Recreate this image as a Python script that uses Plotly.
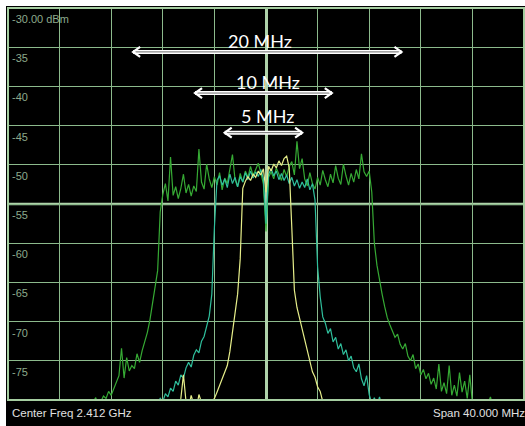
import plotly.graph_objects as go

# ---------------- data ----------------
center_label = "Center Freq 2.412 GHz"
span_label = "Span 40.000 MHz"
ref_label = "-30.00 dBm"
y_tick_values = [-35, -40, -45, -50, -55, -60, -65, -70, -75]

# sweep: frequency offset from centre (MHz), 0.2 MHz per point
sweep_step = 0.2

# 20 MHz channel trace, starts at -14.0 MHz
green_start = -14.0
green_dbm = [
    -81.5, -81.0, -81.2, -80.3, -79.7, -80.8, -80.2, -79.5, -79.8, -78.9,
    -79.4, -78.6, -77.8, -76.9, -73.4, -77.2, -74.6, -76.3, -75.6, -76.0,
    -74.1, -75.2, -73.7, -72.6, -71.4, -69.8, -67.6, -65.4, -63.5, -56.0,
    -53.8, -52.4, -54.6, -49.0, -53.9, -52.8, -54.3, -53.0, -51.2, -53.6,
    -52.5, -54.0, -52.7, -53.4, -48.0, -52.2, -53.1, -49.9, -51.8, -52.9,
    -51.5, -52.6, -51.0, -53.2, -51.7, -52.4, -50.3, -48.7, -51.9, -52.8,
    -51.1, -52.2, -50.8, -51.6, -50.2, -51.4, -50.6, -49.8, -51.0, -52.5,
    -58.5, -51.6, -50.9, -51.8, -50.4, -51.2, -52.0, -50.6, -51.5, -50.2,
    -49.6, -51.3, -47.0, -50.5, -49.2, -51.8, -52.7, -51.0, -52.4, -53.1,
    -51.6, -52.6, -50.7, -51.9, -52.8, -51.2, -52.3, -50.1, -51.7, -52.5,
    -49.9, -51.4, -52.6, -51.1, -52.2, -50.6, -51.8, -48.6, -50.9, -51.5,
    -50.8, -53.5, -60.0, -62.8, -64.8, -66.5, -68.1, -69.5, -70.4, -71.2,
    -72.0, -71.6, -72.9, -73.5, -72.8, -74.4, -75.0, -74.2, -76.0, -75.4,
    -76.8, -76.1, -77.3, -76.6, -78.0, -77.2, -78.6, -75.4, -78.9, -77.8,
    -79.2, -75.6, -79.4, -78.1, -79.5, -76.5, -79.0, -77.6, -79.8, -76.8,
    -80.4, -81.0, -80.6, -81.2, -80.8, -81.3, -80.4, -79.6, -81.0, -81.5,
    -81.2,
]

# 10 MHz channel trace, starts at -9.0 MHz
teal_start = -9.0
teal_dbm = [
    -81.2, -80.6, -81.0, -80.4, -79.8, -80.2, -79.2, -79.6, -78.5, -78.9,
    -77.6, -78.1, -76.8, -77.2, -75.9, -75.2, -75.8, -74.3, -73.6, -74.0,
    -72.5, -71.9, -70.6, -69.3, -66.5, -58.0, -52.0, -51.4, -52.6, -51.8,
    -52.9, -51.2, -52.4, -51.6, -52.8, -51.5, -52.2, -51.0, -51.9, -50.8,
    -51.7, -50.9, -51.5, -50.6, -51.8, -57.5, -51.2, -50.5, -51.4, -50.8,
    -51.9, -51.1, -52.0, -51.3, -52.4, -51.6, -52.7, -51.9, -53.0, -52.2,
    -52.9, -51.8, -53.2, -52.4, -54.5, -63.0, -66.8, -69.4, -70.2, -71.5,
    -70.9, -72.6, -72.0, -73.5, -72.8, -74.2, -73.6, -75.0, -74.4, -75.9,
    -76.4, -75.4, -77.3, -78.2, -76.9, -79.3, -80.5, -79.7, -80.8, -79.6,
    -80.9, -81.2, -80.6, -81.3, -81.0, -81.4,
]

# 5 MHz channel trace, starts at -8.0 MHz
yellow_start = -8.0
yellow_dbm = [
    -81.5, -81.0, -81.3, -80.7, -81.1, -80.4, -80.9, -79.8, -76.8, -80.2,
    -81.0, -79.4, -80.6, -81.2, -79.3, -80.5, -81.3, -80.8, -81.1, -80.3,
    -79.8, -79.0, -78.2, -77.4, -76.5, -75.6, -73.8, -71.5, -69.0, -66.5,
    -62.0, -53.0, -52.1, -51.5, -52.0, -51.2, -51.6, -50.8, -51.3, -50.5,
    -53.5, -50.2, -50.8, -49.9, -50.4, -49.5, -50.1, -49.2, -48.9, -50.4,
    -58.0, -66.0, -68.2, -69.6, -70.8, -72.2, -73.5, -75.0, -76.4, -77.1,
    -78.3, -78.9, -80.2, -81.0, -80.6, -81.3, -81.0, -81.4, -81.1, -81.5,
    -81.2,
]

# bandwidth markers: label, left end (MHz), right end (MHz), level (dBm), label pos
bw_labels = ["20 MHz", "10 MHz", "5 MHz"]
bw_left = [-10.3, -5.5, -3.2]
bw_right = [10.5, 5.1, 2.8]
bw_level = [-35.6, -40.85, -45.9]
bw_text_x = [-0.5, 0.15, 0.15]
bw_text_y = [-34.2, -39.5, -43.8]

# ---------------- figure ----------------
X_RANGE = [-20, 20]
Y_RANGE = [-80, -30]
W, H = 525, 426
ML, MR, MT, MB = 8, 1, 8, 26
plot_w = W - ML - MR
plot_h = H - MT - MB


def sweep(start, values):
    return [round(start + sweep_step * i, 2) for i in range(len(values))]


fig = go.Figure()

trace_specs = [
    (green_start, green_dbm, "#36aa34"),
    (teal_start, teal_dbm, "#2fbf9c"),
    (yellow_start, yellow_dbm, "#e6ee8a"),
]
for start, vals, col in trace_specs:
    fig.add_trace(go.Scatter(
        x=sweep(start, vals), y=vals, mode="lines",
        line=dict(color=col, width=1.2), hoverinfo="skip", showlegend=False,
        cliponaxis=True,
    ))

# arrow chevron size, converted from pixels to data units
mhz_per_px = (X_RANGE[1] - X_RANGE[0]) / plot_w
db_per_px = (Y_RANGE[1] - Y_RANGE[0]) / plot_h
cdx = 7 * mhz_per_px
cdy = 5 * db_per_px

for lab, xl, xr, lvl, tx, ty in zip(bw_labels, bw_left, bw_right, bw_level,
                                    bw_text_x, bw_text_y):
    fig.add_trace(go.Scatter(
        x=[xl, xr], y=[lvl, lvl], mode="lines",
        line=dict(color="white", width=4), hoverinfo="skip", showlegend=False))
    fig.add_trace(go.Scatter(
        x=[xl + 1.5 * mhz_per_px, xr - 1.5 * mhz_per_px], y=[lvl, lvl], mode="lines",
        line=dict(color="#6a6a6a", width=1), hoverinfo="skip", showlegend=False))
    fig.add_trace(go.Scatter(
        x=[xl + cdx, xl, xl + cdx, None, xr - cdx, xr, xr - cdx],
        y=[lvl + cdy, lvl, lvl - cdy, None, lvl + cdy, lvl, lvl - cdy],
        mode="lines", line=dict(color="white", width=2.2),
        hoverinfo="skip", showlegend=False))
    fig.add_annotation(x=tx, y=ty, xref="x", yref="y", text=lab, showarrow=False,
                       font=dict(family="Lato", size=18, color="white"),
                       xanchor="center", yanchor="middle")

grid_col = "rgb(140,186,140)"
axis_common = dict(showgrid=True, gridcolor=grid_col, gridwidth=1,
                   showticklabels=False, ticks="", showline=False,
                   fixedrange=True)
fig.update_xaxes(range=X_RANGE, dtick=4, tick0=-20, zeroline=True,
                 zerolinecolor="rgb(175,210,170)", zerolinewidth=2.5,
                 **axis_common)
fig.update_yaxes(range=Y_RANGE, dtick=5, tick0=-80, zeroline=False,
                 **axis_common)

px_x = lambda p: (p - ML) / plot_w
px_y = lambda p: (H - MB - p) / plot_h

shapes = [
    # black screen area (white strip on top and left of the photo)
    dict(type="rect", xref="paper", yref="paper",
         x0=px_x(6), x1=px_x(W + 2), y0=px_y(H + 2), y1=px_y(6),
         fillcolor="black", line=dict(width=0), layer="below"),
    # centre horizontal graticule line
    dict(type="line", xref="paper", yref="y", x0=0, x1=1,
         y0=(Y_RANGE[0] + Y_RANGE[1]) / 2, y1=(Y_RANGE[0] + Y_RANGE[1]) / 2,
         line=dict(color="rgb(175,210,170)", width=2.5), layer="below"),
    # border
    dict(type="rect", xref="paper", yref="paper", x0=0, x1=1, y0=0, y1=1,
         line=dict(color="rgb(165,205,160)", width=2), layer="above"),
]
fig.update_layout(shapes=shapes)

label_font = dict(family="Liberation Sans", size=11, color="rgb(140,170,140)")
fig.add_annotation(x=px_x(10), y=Y_RANGE[1], xref="paper", yref="y",
                   text=ref_label, showarrow=False, xanchor="left",
                   yanchor="top", yshift=-3, font=label_font)
for v in y_tick_values:
    fig.add_annotation(x=px_x(10), y=v, xref="paper", yref="y",
                       text=str(v), showarrow=False, xanchor="left",
                       yanchor="top", yshift=-3, font=label_font)

bottom_font = dict(family="Liberation Sans", size=11.5, color="rgb(225,225,225)")
fig.add_annotation(x=px_x(10), y=px_y(413), xref="paper", yref="paper",
                   text=center_label, showarrow=False, xanchor="left",
                   yanchor="middle", font=bottom_font)
fig.add_annotation(x=px_x(431), y=px_y(413), xref="paper", yref="paper",
                   text=span_label, showarrow=False, xanchor="left",
                   yanchor="middle", font=bottom_font)

fig.update_layout(
    width=W, height=H,
    margin=dict(l=ML, r=MR, t=MT, b=MB, pad=0),
    paper_bgcolor="white", plot_bgcolor="black",
    showlegend=False,
)

fig.write_html(
    "out.html",
    config={"displayModeBar": False},
    post_script="document.body.style.margin='0';document.body.style.overflow='hidden';",
)
